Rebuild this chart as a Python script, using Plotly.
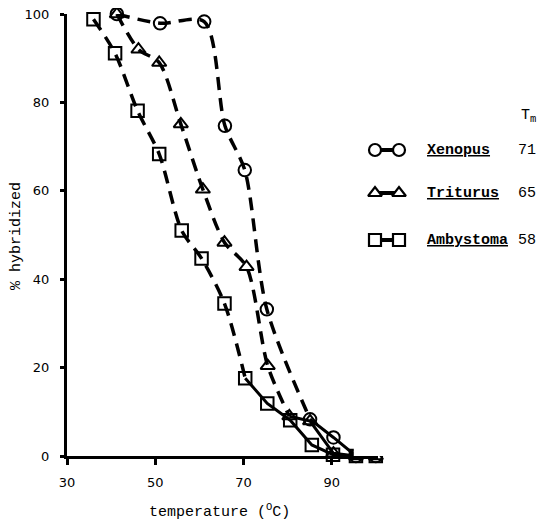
import plotly.graph_objects as go

# ---------------- data ----------------
xen_temp = [41.3, 51.1, 61.1, 65.8, 70.3, 75.3, 85.1, 90.4, 95.5, 100.0]
xen_hyb = [100.0, 97.9, 98.3, 74.7, 64.7, 33.2, 8.3, 4.2, 0.0, 0.0]

tri_temp = [41.3, 46.2, 50.9, 55.8, 60.8, 65.7, 70.7, 75.5, 80.4, 85.1, 90.4, 95.5, 100.0]
tri_hyb = [100.0, 92.0, 89.0, 75.1, 60.3, 48.3, 42.8, 20.4, 9.0, 7.9, 0.6, 0.0, 0.0]

amb_temp = [36.0, 40.9, 46.0, 50.9, 56.0, 60.5, 65.7, 70.4, 75.4, 80.6, 85.5, 90.3, 95.5, 100.0]
amb_hyb = [98.8, 91.1, 78.1, 68.3, 51.0, 44.7, 34.5, 17.6, 11.9, 8.1, 2.5, 0.3, 0.0, 0.0]

species = ["Xenopus", "Triturus", "Ambystoma"]
tm_values = ["71", "65", "58"]

x_ticks = [30, 50, 70, 90]
y_ticks = [0, 20, 40, 60, 80, 100]

# index where the dashed (fitted) part ends and the solid tail begins
split_idx = {"Xenopus": 6, "Triturus": 8, "Ambystoma": 7}

# ---------------- layout geometry ----------------
# the page places the figure 8px in from the top-left corner
OFF = 8
W, H = 545 - OFF, 520 - OFF
ML = 67 - OFF           # y-axis line
MT = 14 - OFF           # top of the y range (100)
BOTTOM = 456 - OFF      # x-axis line
MB = H - BOTTOM
MR = 0
PW = W - ML - MR
PH = BOTTOM - MT
X_END = 378 - OFF


def px_x(ref_px):
    return ref_px - OFF


def px_y(ref_px):
    return ref_px - OFF


MONO = "Liberation Mono"
TICKFONT = dict(family="DejaVu Sans", size=13, color="black")
symbols = {"Xenopus": "circle", "Triturus": "triangle-up", "Ambystoma": "square"}
series = {
    "Xenopus": (xen_temp, xen_hyb),
    "Triturus": (tri_temp, tri_hyb),
    "Ambystoma": (amb_temp, amb_hyb),
}

fig = go.Figure()

for name in species:
    xs, ys = series[name]
    k = split_idx[name]
    # dashed smooth upper part
    fig.add_trace(go.Scatter(
        x=xs[:k + 1], y=ys[:k + 1], mode="lines",
        line=dict(color="black", width=3.5, dash="13px,8px", shape="spline", smoothing=0.8),
        cliponaxis=False, showlegend=False, hoverinfo="skip"))
    # solid tail
    fig.add_trace(go.Scatter(
        x=xs[k:], y=ys[k:], mode="lines",
        line=dict(color="black", width=3),
        cliponaxis=False, showlegend=False, hoverinfo="skip"))
    # markers
    fig.add_trace(go.Scatter(
        x=xs, y=ys, mode="markers", name=name,
        marker=dict(symbol=symbols[name] + "-open", size=12.5, color="black",
                    line=dict(color="black", width=2)),
        cliponaxis=False, showlegend=False))

# ---------------- legend (drawn on a pixel-unit overlay axis) ----------------
LEG_DOM0 = 0.6
LEG_X0 = ML + LEG_DOM0 * PW
row_y = [px_y(150), px_y(193), px_y(240)]
glyph_x = [px_x(375), px_x(399)]
LEGFONT = dict(family=MONO, size=15, color="black")
TM_RIGHT = px_x(537)
for name, ry, tm in zip(species, row_y, tm_values):
    fig.add_trace(go.Scatter(
        x=glyph_x, y=[ry, ry], xaxis="x2", yaxis="y2", mode="lines+markers",
        line=dict(color="black", width=4),
        marker=dict(symbol=symbols[name], size=12, color="white",
                    line=dict(color="black", width=2.2)),
        cliponaxis=False, showlegend=False, hoverinfo="skip"))
    fig.add_annotation(x=px_x(425), y=ry, xref="x2", yref="y2", xanchor="left", yanchor="middle",
                       text="<b><u>" + name + "</u></b>", showarrow=False, font=LEGFONT)
    fig.add_annotation(x=TM_RIGHT, y=ry, xref="x2", yref="y2", xanchor="right", yanchor="middle",
                       text=tm, showarrow=False, borderpad=0, font=LEGFONT)
fig.add_annotation(x=TM_RIGHT, y=px_y(116), xref="x2", yref="y2", xanchor="right", yanchor="middle",
                   text="T<sub>m</sub>", showarrow=False, borderpad=0, font=LEGFONT)

# axis titles (paper coordinates)
fig.add_annotation(x=(px_x(219) - ML) / PW, y=(BOTTOM - px_y(511)) / PH,
                   xref="paper", yref="paper", xanchor="center", yanchor="middle",
                   text="temperature (<sup>O</sup>C)", showarrow=False,
                   font=dict(family=MONO, size=15, color="black"))
fig.add_annotation(x=(px_x(16) - ML) / PW, y=(BOTTOM - px_y(236)) / PH,
                   xref="paper", yref="paper", xanchor="center", yanchor="middle",
                   text="% hybridized", showarrow=False, textangle=-90,
                   font=dict(family=MONO, size=15, color="black"))

fig.update_layout(
    width=W, height=H,
    margin=dict(l=ML, r=MR, t=MT, b=MB),
    paper_bgcolor="white", plot_bgcolor="white",
    showlegend=False,
    xaxis=dict(domain=[0, (X_END - ML) / PW], range=[30, 100.5],
               tickvals=x_ticks, ticktext=[str(v) for v in x_ticks],
               showgrid=False, zeroline=False, showline=True, linecolor="black", linewidth=3,
               ticks="outside", ticklen=6, tickwidth=2.5, tickcolor="black",
               tickfont=TICKFONT, ticklabelstandoff=6, ticklabeloverflow="allow"),
    yaxis=dict(domain=[0, 1], range=[0, 100],
               tickvals=y_ticks, ticktext=[str(v) for v in y_ticks],
               showgrid=False, zeroline=False, showline=True, linecolor="black", linewidth=3,
               ticks="outside", ticklen=4, tickwidth=2.5, tickcolor="black",
               tickfont=TICKFONT, ticklabelstandoff=8, ticklabeloverflow="allow"),
    xaxis2=dict(domain=[LEG_DOM0, 1], range=[LEG_X0, W], visible=False, anchor="y2"),
    yaxis2=dict(domain=[0, 1], range=[BOTTOM, MT], visible=False, anchor="x2"),
)

fig.write_html("out.html")
